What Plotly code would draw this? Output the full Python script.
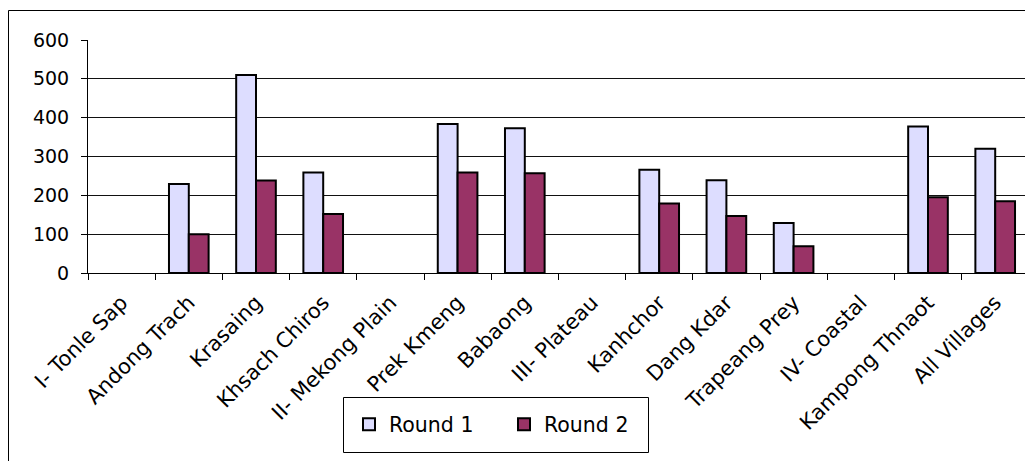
import plotly.graph_objects as go

categories = ["I- Tonle Sap", "Andong Trach", "Krasaing", "Khsach Chiros", "II- Mekong Plain",
              "Prek Kmeng", "Babaong", "III- Plateau", "Kanhchor", "Dang Kdar",
              "Trapeang Prey", "IV- Coastal", "Kampong Thnaot", "All Villages"]
round1 = [None, 229, 510, 259, None, 384, 373, None, 266, 239, 129, None, 377, 320]
round2 = [None, 100, 238, 152, None, 259, 257, None, 179, 147, 69, None, 195, 185]
y_ticks = [0, 100, 200, 300, 400, 500, 600]

W, H = 1025, 461
L, T, B = 88, 40, 188
PW, PH = W - L, H - T - B
FONT = "DejaVu Sans"

fig = go.Figure()
fig.add_trace(go.Bar(name="Round 1", x=categories, y=round1,
                     marker=dict(color="#DDDDFF", line=dict(color="#000000", width=2))))
fig.add_trace(go.Bar(name="Round 2", x=categories, y=round2,
                     marker=dict(color="#993366", line=dict(color="#000000", width=2))))

def px2x(px):
    return (px - L) / PW

def py2y(py):
    return (H - B - py) / PH

fig.update_layout(
    width=W, height=H,
    margin=dict(l=L, r=0, t=T, b=B, pad=0),
    paper_bgcolor="white", plot_bgcolor="white",
    font=dict(family=FONT, size=18, color="#000000"),
    barmode="group", bargap=0.41, bargroupgap=0,
    showlegend=True,
    legend=dict(orientation="h", x=px2x(349), y=py2y(424.5), xanchor="left", yanchor="middle",
                borderwidth=0, bgcolor="rgba(0,0,0,0)",
                font=dict(family=FONT, size=20.5), itemwidth=30,
                entrywidth=110, traceorder="normal"),
    xaxis=dict(range=[-0.5, -0.5 + PW / 67.2], tickangle=-45, showgrid=False,
               ticks="outside", tickson="boundaries", ticklen=6, tickcolor="#000000",
               showline=True, linecolor="#000000", linewidth=1, automargin=False,
               tickfont=dict(family=FONT, size=21), ticklabelstandoff=8),
    yaxis=dict(range=[0, 600], tickvals=y_ticks, ticks="outside", ticklen=6,
               tickcolor="#000000", showline=True, linecolor="#000000", linewidth=1,
               showgrid=True, gridcolor="#111111", gridwidth=1, zeroline=False,
               automargin=False, tickfont=dict(family=FONT, size=19), ticklabelstandoff=8),
    shapes=[
        dict(type="rect", xref="paper", yref="paper",
             x0=px2x(8.5), y0=py2y(470), x1=px2x(1040), y1=py2y(10.5),
             line=dict(color="#000000", width=1), fillcolor="rgba(0,0,0,0)", layer="below"),
        dict(type="rect", xref="paper", yref="paper",
             x0=px2x(343.5), y0=py2y(452.5), x1=px2x(648.5), y1=py2y(397.5),
             line=dict(color="#000000", width=1), fillcolor="white", layer="below"),
    ],
)

fig.write_html("out.html", config={"displayModeBar": False},
               post_script="document.body.style.margin='0';")
